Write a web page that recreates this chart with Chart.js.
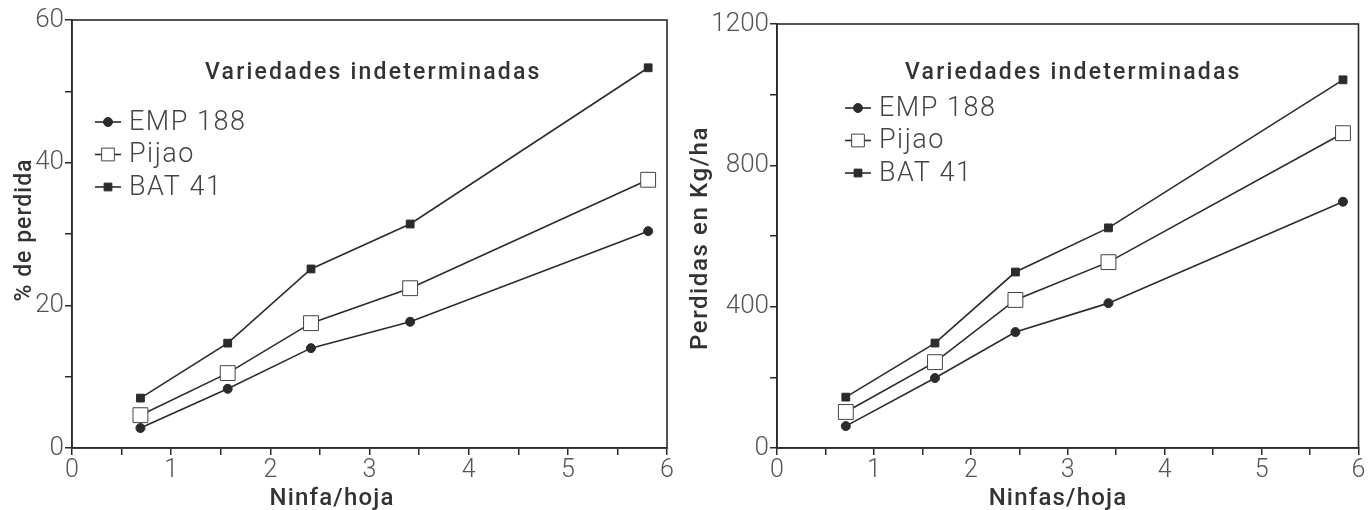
<!DOCTYPE html>
<html>
<head>
<meta charset="utf-8">
<script src="https://cdn.jsdelivr.net/npm/chart.js@4"></script>
<style>
  html, body { margin: 0; padding: 0; background: #fff; }
  .box { position: absolute; top: 0; width: 685px; height: 510px; }
</style>
</head>
<body>
<div class="box" style="left:0"><canvas id="left"></canvas></div>
<div class="box" style="left:685px"><canvas id="right"></canvas></div>
<script>
const seriesNames = ['EMP 188', 'Pijao', 'BAT 41'];
const titleText = 'Variedades indeterminadas';

// panel izquierdo: % de perdida
const xLeft = [0.69, 1.57, 2.41, 3.41, 5.81];
const empLeft = [2.8, 8.3, 14.0, 17.7, 30.4];
const pijaoLeft = [4.6, 10.5, 17.5, 22.4, 37.6];
const batLeft = [7.0, 14.7, 25.1, 31.4, 53.3];

// panel derecho: perdidas en Kg/ha
const xRight = [0.71, 1.63, 2.46, 3.42, 5.84];
const empRight = [62, 198, 328, 410, 697];
const pijaoRight = [102, 243, 419, 526, 891];
const batRight = [144, 297, 498, 623, 1042];

const xTickLabels = [0, 1, 2, 3, 4, 5, 6];
const yTicksLeft = [0, 20, 40, 60];
const yTicksRight = [0, 400, 800, 1200];

const INK = '#2b2b2b';
const FONT = 'Roboto, "Liberation Sans", sans-serif';

const pointStyles = [
  { pointStyle: 'circle', pointRadius: 4.5, pointBackgroundColor: INK, pointBorderColor: INK, pointBorderWidth: 1 },
  { pointStyle: 'rect', pointRadius: 10.5, pointBackgroundColor: '#fff', pointBorderColor: '#444', pointBorderWidth: 1 },
  { pointStyle: 'rect', pointRadius: 5.5, pointBackgroundColor: INK, pointBorderColor: INK, pointBorderWidth: 1 }
];

function makeSets(xs, lists) {
  return lists.map((vals, i) => Object.assign({
    label: seriesNames[i],
    data: xs.map((x, j) => ({ x: x, y: vals[j] })),
    borderColor: INK,
    borderWidth: 1.6,
    showLine: true,
    clip: false
  }, pointStyles[i]));
}

// marco, titulo, leyenda y titulos de ejes
const decor = {
  id: 'decor',
  afterDraw(chart, args, o) {
    const { ctx, chartArea: a } = chart;
    ctx.save();
    ctx.strokeStyle = INK;
    ctx.lineWidth = 1.6;
    ctx.strokeRect(a.left, a.top, a.right - a.left, a.bottom - a.top);

    ctx.fillStyle = '#333';
    ctx.font = '500 23px ' + FONT;
    ctx.letterSpacing = '2.2px';
    ctx.textBaseline = 'middle';
    ctx.textAlign = 'left';
    ctx.fillText(titleText, o.titleX, o.titleY);

    chart.data.datasets.forEach((ds, i) => {
      const y = o.legY + i * o.legDy;
      ctx.strokeStyle = INK;
      ctx.lineWidth = 1.6;
      ctx.beginPath();
      ctx.moveTo(o.legX, y);
      ctx.lineTo(o.legX + 26, y);
      ctx.stroke();
      ctx.fillStyle = ds.pointBackgroundColor;
      ctx.strokeStyle = ds.pointBorderColor;
      ctx.lineWidth = ds.pointBorderWidth;
      Chart.helpers.drawPoint(ctx, {
        pointStyle: ds.pointStyle, radius: Math.min(ds.pointRadius, 9),
        rotation: 0, borderWidth: ds.pointBorderWidth
      }, o.legX + 13, y);
      ctx.fillStyle = '#444';
      ctx.font = '300 27px ' + FONT;
      ctx.letterSpacing = '1.5px';
      ctx.textAlign = 'left';
      ctx.fillText(ds.label, o.legX + 34, y + 1);
    });

    ctx.fillStyle = '#333';
    ctx.font = '500 24px ' + FONT;
    ctx.letterSpacing = '1.2px';
    ctx.textAlign = 'center';
    ctx.fillText(o.xTitle, o.xTitleX, 499);

    ctx.translate(o.yTitleX, o.yTitleY);
    ctx.rotate(-Math.PI / 2);
    ctx.font = '500 ' + o.yTitleSize + 'px ' + FONT;
    ctx.letterSpacing = o.yTitleSpacing + 'px';
    ctx.fillText(o.yTitle, 0, 0);
    ctx.restore();
  }
};

function build(id, xs, lists, yMax, yStep, yLabels, opts) {
  new Chart(document.getElementById(id), {
    type: 'scatter',
    data: { datasets: makeSets(xs, lists) },
    plugins: [decor],
    options: {
      responsive: true,
      maintainAspectRatio: false,
      animation: false,
      layout: { padding: { left: 0, top: opts.top, right: opts.right, bottom: 0 } },
      plugins: {
        legend: { display: false },
        tooltip: { enabled: false },
        decor: opts
      },
      scales: {
        x: {
          type: 'linear', min: 0, max: 6,
          afterBuildTicks: s => { s.ticks = []; for (let v = 0; v <= 12; v++) s.ticks.push({ value: v / 2 }); },
          afterFit: s => { s.height = 62; s.paddingLeft = 0; s.paddingRight = 0; },
          grid: { drawOnChartArea: false, drawTicks: true, tickLength: 7, color: INK, lineWidth: 1.5 },
          border: { color: INK, width: 1.6 },
          ticks: {
            padding: 1, maxRotation: 0, autoSkip: false, color: '#555',
            font: { family: FONT, size: 25, weight: 300 },
            callback: v => xTickLabels.includes(v) ? String(v) : ''
          }
        },
        y: {
          type: 'linear', min: 0, max: yMax,
          afterBuildTicks: s => { s.ticks = []; for (let v = 0; v <= yMax; v += yStep) s.ticks.push({ value: v }); },
          afterFit: s => { s.width = opts.yWidth; s.paddingTop = 0; s.paddingBottom = 0; },
          grid: { drawOnChartArea: false, drawTicks: true, tickLength: 7, color: INK, lineWidth: 1.5 },
          border: { color: INK, width: 1.6 },
          ticks: {
            padding: 1, autoSkip: false, color: '#555',
            font: { family: FONT, size: 26, weight: 300 },
            callback: v => yLabels.includes(v) ? String(v) : ''
          }
        }
      }
    }
  });
}

build('left', xLeft, [empLeft, pijaoLeft, batLeft], 60, 10, yTicksLeft, {
  top: 20, right: 18, yWidth: 72,
  titleX: 205, titleY: 73, legX: 95, legY: 122, legDy: 32.5,
  xTitle: 'Ninfa/hoja', xTitleX: 332,
  yTitle: '% de perdida', yTitleX: 25, yTitleY: 230, yTitleSize: 23, yTitleSpacing: 1
});
build('right', xRight, [empRight, pijaoRight, batRight], 1200, 200, yTicksRight, {
  top: 24, right: 2, yWidth: 92,
  titleX: 220, titleY: 73, legX: 160, legY: 108, legDy: 32.5,
  xTitle: 'Ninfas/hoja', xTitleX: 373,
  yTitle: 'Perdidas en Kg/ha', yTitleX: 16, yTitleY: 238, yTitleSize: 24, yTitleSpacing: 1.6
});
</script>
</body>
</html>
